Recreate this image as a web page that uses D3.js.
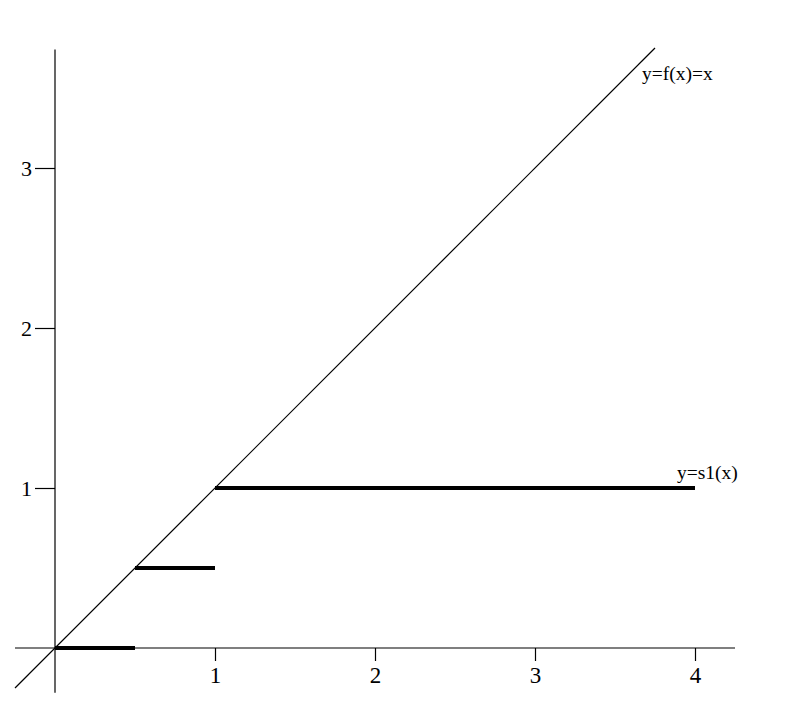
<!DOCTYPE html>
<html>
<head>
<meta charset="utf-8">
<script src="https://d3js.org/d3.v7.min.js"></script>
<style>
  body { margin: 0; background: #fff; }
  svg text { font-family: "Liberation Serif", "DejaVu Serif", serif; fill: #000; }
</style>
</head>
<body>
<script>
// tick values on each axis
var xTicks = [1, 2, 3, 4]
var yTicks = [1, 2, 3]

// the line y = f(x) = x, drawn between these x values
var fDomain = [-0.25, 3.75]

// the step function s1: [x start, x end, y]
var stepStart = [0, 0.5, 1]
var stepEnd = [0.5, 1, 4]
var stepValue = [0, 0.5, 1]

var curveLabels = ["y=f(x)=x", "y=s1(x)"]

var width = 792, height = 709

var svg = d3.select("body").append("svg")
  .attr("width", width)
  .attr("height", height)

// 160px per unit, origin at (55,648)
var x = d3.scaleLinear().domain([0, 4]).range([55, 695])
var y = d3.scaleLinear().domain([0, 3]).range([648, 168])

//axis lines
svg.append("line")
  .attr("x1", x(-0.25)).attr("x2", x(4.25))
  .attr("y1", y(0)).attr("y2", y(0))
  .style("stroke", "#000").style("stroke-width", 1.2)

svg.append("line")
  .attr("x1", x(0)).attr("x2", x(0))
  .attr("y1", y(-0.28)).attr("y2", y(3.74))
  .style("stroke", "#000").style("stroke-width", 1.2)

//x ticks
var xAxis = d3.axisBottom(x).tickValues(xTicks).tickFormat(d3.format("d"))
  .tickSize(13).tickSizeOuter(0).tickPadding(6)
var gx = svg.append("g").attr("transform", `translate(0,${y(0)})`).call(xAxis)
gx.select(".domain").remove()
gx.selectAll("text").style("font-size", "23px").style("font-family", "Liberation Serif")
gx.selectAll("line").style("stroke-width", 1.2)

//y ticks
var yAxis = d3.axisLeft(y).tickValues(yTicks).tickFormat(d3.format("d"))
  .tickSize(20).tickSizeOuter(0).tickPadding(3)
var gy = svg.append("g").attr("transform", `translate(${x(0)},0)`).call(yAxis)
gy.select(".domain").remove()
gy.selectAll("text").style("font-size", "22px").style("font-family", "Liberation Serif")
gy.selectAll("line").style("stroke-width", 1.2)

//y = x
svg.append("line")
  .attr("x1", x(fDomain[0])).attr("y1", y(fDomain[0]))
  .attr("x2", x(fDomain[1])).attr("y2", y(fDomain[1]))
  .style("stroke", "#000").style("stroke-width", 1.2)

//step segments
svg.append("g").selectAll("line")
  .data(stepStart)
  .enter()
  .append("line")
  .attr("x1", function(d){ return x(d) })
  .attr("x2", function(d,i){ return x(stepEnd[i]) })
  .attr("y1", function(d,i){ return y(stepValue[i]) })
  .attr("y2", function(d,i){ return y(stepValue[i]) })
  .style("stroke", "#000")
  .style("stroke-width", 4)

//curve labels
svg.append("text").text(curveLabels[0])
  .attr("x", 642).attr("y", 80)
  .style("font-size", "19.5px")

svg.append("text").text(curveLabels[1])
  .attr("x", 677).attr("y", 479)
  .style("font-size", "19.5px")
</script>
</body>
</html>
